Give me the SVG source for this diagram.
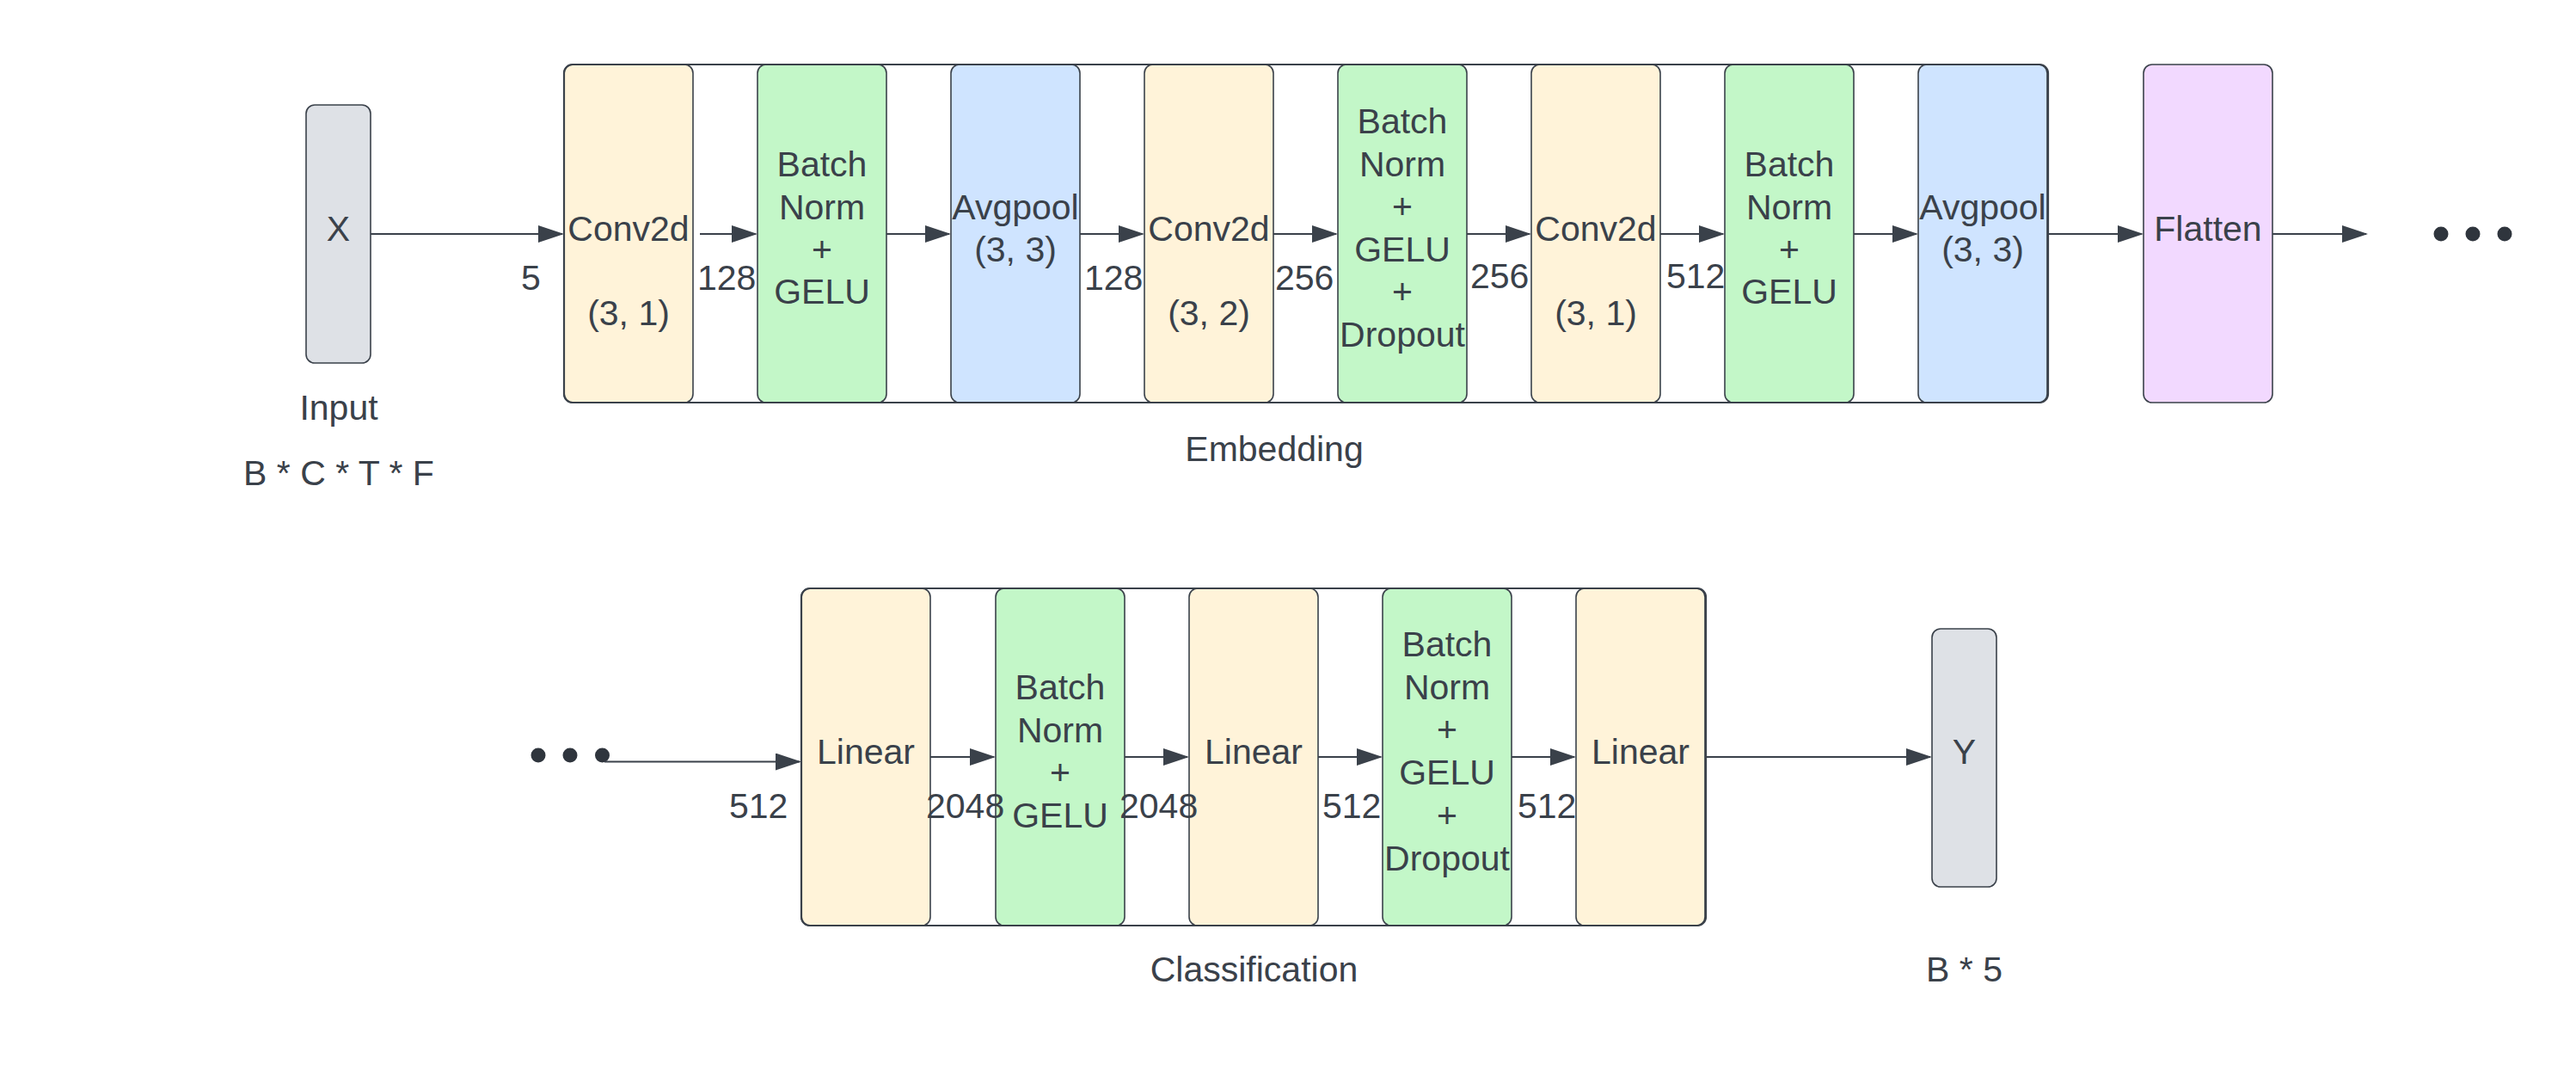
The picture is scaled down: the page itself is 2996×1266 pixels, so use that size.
<svg xmlns="http://www.w3.org/2000/svg" width="2996" height="1266" viewBox="0 0 2996 1266">
  <style>
    .t{font-family:"Liberation Sans",Arial,sans-serif;font-size:41px;fill:#3a414a;text-anchor:middle}
    .l{font-family:"Liberation Sans",Arial,sans-serif;font-size:41px;fill:#3a414a;text-anchor:start}
    .n{stroke:#3a414a;stroke-width:1.6}
    .conv{fill:#fff3d9}
    .bn{fill:#c3f7c8}
    .pool{fill:#cfe4ff}
    .flat{fill:#f2d9ff}
    .io{fill:#dee1e6}
    .box{fill:none;stroke:#3a414a;stroke-width:2.2}
    .e{stroke:#3a414a;stroke-width:2;fill:none;marker-end:url(#ah)}
    .dot{fill:#2f353d}
  </style>
  <defs>
    <marker id="ah" markerUnits="userSpaceOnUse" viewBox="0 0 30 20" refX="28" refY="10" markerWidth="30" markerHeight="20" orient="auto">
      <path d="M0,0 L30,10 L0,20 z" fill="#3a414a"/>
    </marker>
  </defs>
  <rect width="2996" height="1266" fill="#ffffff"/>

  <!-- Top row -->
  <g id="input">
    <rect class="n io" x="356" y="122" width="75" height="300" rx="10"/>
    <text class="t" x="393.5" y="280">X</text>
    <text class="t" x="394" y="488">Input</text>
    <text class="t" x="394" y="564">B * C * T * F</text>
  </g>
  <g id="conv1">
    <rect class="n conv" x="656" y="75" width="150" height="393" rx="10"/>
    <text class="t" x="731" y="280">Conv2d</text>
    <text class="t" x="731" y="378">(3, 1)</text>
  </g>
  <g id="bn1">
    <rect class="n bn" x="881" y="75" width="150" height="393" rx="10"/>
    <text class="t" x="956" y="205">Batch</text>
    <text class="t" x="956" y="255">Norm</text>
    <text class="t" x="956" y="304">+</text>
    <text class="t" x="956" y="353">GELU</text>
  </g>
  <g id="pool1">
    <rect class="n pool" x="1106" y="75" width="150" height="393" rx="10"/>
    <text class="t" x="1181" y="255">Avgpool</text>
    <text class="t" x="1181" y="304">(3, 3)</text>
  </g>
  <g id="conv2">
    <rect class="n conv" x="1331" y="75" width="150" height="393" rx="10"/>
    <text class="t" x="1406" y="280">Conv2d</text>
    <text class="t" x="1406" y="378">(3, 2)</text>
  </g>
  <g id="bn2">
    <rect class="n bn" x="1556" y="75" width="150" height="393" rx="10"/>
    <text class="t" x="1631" y="155">Batch</text>
    <text class="t" x="1631" y="204.5">Norm</text>
    <text class="t" x="1631" y="254">+</text>
    <text class="t" x="1631" y="304">GELU</text>
    <text class="t" x="1631" y="353">+</text>
    <text class="t" x="1631" y="403">Dropout</text>
  </g>
  <g id="conv3">
    <rect class="n conv" x="1781" y="75" width="150" height="393" rx="10"/>
    <text class="t" x="1856" y="280">Conv2d</text>
    <text class="t" x="1856" y="378">(3, 1)</text>
  </g>
  <g id="bn3">
    <rect class="n bn" x="2006" y="75" width="150" height="393" rx="10"/>
    <text class="t" x="2081" y="205">Batch</text>
    <text class="t" x="2081" y="255">Norm</text>
    <text class="t" x="2081" y="304">+</text>
    <text class="t" x="2081" y="353">GELU</text>
  </g>
  <g id="pool2">
    <rect class="n pool" x="2231" y="75" width="150" height="393" rx="10"/>
    <text class="t" x="2306" y="255">Avgpool</text>
    <text class="t" x="2306" y="304">(3, 3)</text>
  </g>
  <g id="embedding">
    <rect class="box" x="656" y="75" width="1726" height="393" rx="10"/>
    <text class="t" x="1482" y="536">Embedding</text>
  </g>
  <g id="flatten">
    <rect class="n flat" x="2493" y="75" width="150" height="393" rx="10"/>
    <text class="t" x="2568" y="280">Flatten</text>
  </g>
  <g id="dots-top">
    <circle class="dot" cx="2839" cy="272" r="8.5"/>
    <circle class="dot" cx="2876" cy="272" r="8.5"/>
    <circle class="dot" cx="2913" cy="272" r="8.5"/>
  </g>

  <!-- Bottom row -->
  <g id="dots-bottom">
    <circle class="dot" cx="626" cy="878" r="8.5"/>
    <circle class="dot" cx="663" cy="878" r="8.5"/>
    <circle class="dot" cx="700.5" cy="878" r="8.5"/>
  </g>
  <g id="linear1">
    <rect class="n conv" x="932" y="684" width="150" height="392" rx="10"/>
    <text class="t" x="1007" y="888">Linear</text>
  </g>
  <g id="bn4">
    <rect class="n bn" x="1158" y="684" width="150" height="392" rx="10"/>
    <text class="t" x="1233" y="813">Batch</text>
    <text class="t" x="1233" y="863">Norm</text>
    <text class="t" x="1233" y="912">+</text>
    <text class="t" x="1233" y="962">GELU</text>
  </g>
  <g id="linear2">
    <rect class="n conv" x="1383" y="684" width="150" height="392" rx="10"/>
    <text class="t" x="1458" y="888">Linear</text>
  </g>
  <g id="bn5">
    <rect class="n bn" x="1608" y="684" width="150" height="392" rx="10"/>
    <text class="t" x="1683" y="763">Batch</text>
    <text class="t" x="1683" y="813">Norm</text>
    <text class="t" x="1683" y="862">+</text>
    <text class="t" x="1683" y="912">GELU</text>
    <text class="t" x="1683" y="962">+</text>
    <text class="t" x="1683" y="1012">Dropout</text>
  </g>
  <g id="linear3">
    <rect class="n conv" x="1833" y="684" width="150" height="392" rx="10"/>
    <text class="t" x="1908" y="888">Linear</text>
  </g>
  <g id="classification">
    <rect class="box" x="932" y="684" width="1052" height="392" rx="10"/>
    <text class="t" x="1458.5" y="1141">Classification</text>
  </g>
  <g id="output">
    <rect class="n io" x="2247" y="731" width="75" height="300" rx="10"/>
    <text class="t" x="2284.5" y="888">Y</text>
    <text class="t" x="2284.5" y="1141">B * 5</text>
  </g>

  <g id="connectors">
    <line class="e" x1="431" y1="272" x2="654" y2="272"/>
    <line class="e" x1="814" y1="272" x2="879" y2="272"/>
    <line class="e" x1="1031" y1="272" x2="1104" y2="272"/>
    <line class="e" x1="1256" y1="272" x2="1329" y2="272"/>
    <line class="e" x1="1481" y1="272" x2="1554" y2="272"/>
    <line class="e" x1="1706" y1="272" x2="1779" y2="272"/>
    <line class="e" x1="1931" y1="272" x2="2004" y2="272"/>
    <line class="e" x1="2156" y1="272" x2="2229" y2="272"/>
    <line class="e" x1="2381" y1="272" x2="2491" y2="272"/>
    <line class="e" x1="2643" y1="272" x2="2752" y2="272"/>
    <line class="e" x1="703" y1="885.5" x2="930" y2="885.5"/>
    <line class="e" x1="1082" y1="880" x2="1156" y2="880"/>
    <line class="e" x1="1308" y1="880" x2="1381" y2="880"/>
    <line class="e" x1="1533" y1="880" x2="1606" y2="880"/>
    <line class="e" x1="1758" y1="880" x2="1831" y2="880"/>
    <line class="e" x1="1983" y1="880" x2="2245" y2="880"/>
  </g>
  <g id="edge-labels">
    <text class="l" x="606" y="337">5</text>
    <text class="l" x="811" y="337">128</text>
    <text class="l" x="1261" y="337">128</text>
    <text class="l" x="1483" y="337">256</text>
    <text class="l" x="1710" y="335">256</text>
    <text class="l" x="1938" y="335">512</text>
    <text class="l" x="848" y="951">512</text>
    <text class="l" x="1077" y="951">2048</text>
    <text class="l" x="1302" y="951">2048</text>
    <text class="l" x="1538" y="951">512</text>
    <text class="l" x="1765" y="951">512</text>
  </g>
</svg>
